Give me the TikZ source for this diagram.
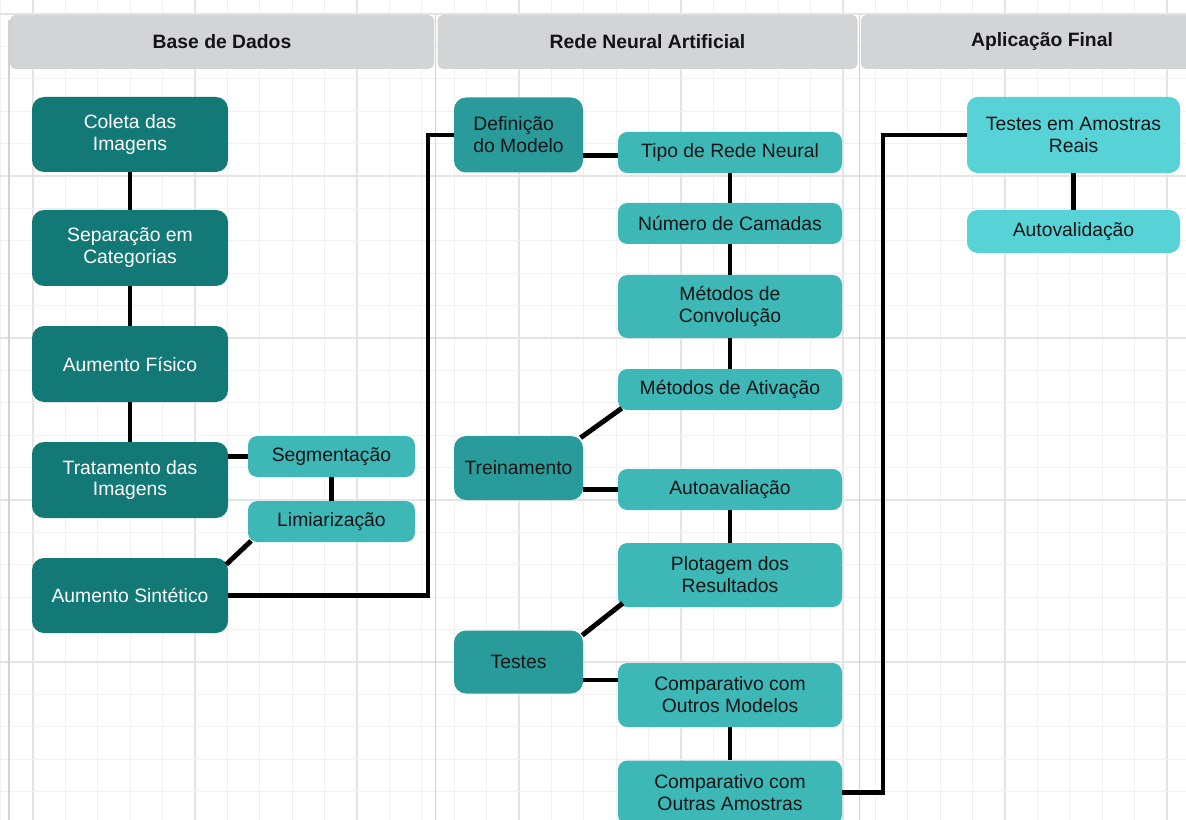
\documentclass[tikz,border=0pt]{standalone}
\usepackage{fontspec}
\setmainfont{Liberation Sans}
\usetikzlibrary{calc}
\definecolor{dk}{HTML}{137977}
\definecolor{md}{HTML}{2A9B9B}
\definecolor{lt}{HTML}{3DB8B7}
\definecolor{cy}{HTML}{57D3D7}
\definecolor{hd}{HTML}{D3D4D6}
\definecolor{txt}{HTML}{141414}
\definecolor{gmin}{HTML}{F1F1F1}
\definecolor{gmaj}{HTML}{E4E4E4}
\definecolor{lanec}{HTML}{D2D2D2}
\newcommand{\fs}{\fontsize{14.5}{16.4}\selectfont}
\begin{document}
\begin{tikzpicture}[x=0.75pt,y=-0.75pt,
  sz/.style 2 args={minimum width=#1*0.75pt, minimum height=#2*0.75pt},
  box/.style={rounded corners=9pt, inner sep=0pt, align=center, font=\fs},
  b1/.style={box, fill=dk, text=white},
  bm/.style={box, fill=md, text=txt},
  bl/.style={box, fill=lt, text=txt, rounded corners=7pt},
  b3/.style={box, fill=cy, text=txt, rounded corners=8pt},
  hdr/.style={fill=hd, rounded corners=4pt, inner sep=0pt, text=txt, font=\fs\bfseries},
  conn/.style={line width=3.7pt, black},
  lane/.style={line width=0.9pt, lanec}]
\useasboundingbox (0,0) rectangle (1186,820);
\begin{scope}
\clip (0,0) rectangle (1186,820);
\fill[white] (0,0) rectangle (1186,820);
% grid
\foreach \i in {0,...,36}{
  \pgfmathtruncatemacro{\m}{mod(\i+4,5)}
  \ifnum\m=0 \def\gc{gmaj}\else\def\gc{gmin}\fi
  \draw[\gc, line width=0.8pt] (0.6+32.4*\i,0) -- (0.6+32.4*\i,820);
}
\foreach \k in {0,...,25}{
  \pgfmathtruncatemacro{\m}{mod(\k,5)}
  \ifnum\m=0 \def\gc{gmaj}\else\def\gc{gmin}\fi
  \draw[\gc, line width=0.8pt] (0,14+32.4*\k) -- (1186,14+32.4*\k);
}
% lanes
\draw[lane] (9,20) -- (9,820);
\draw[lane] (435.5,15) -- (435.5,820);
\draw[lane] (859.5,15) -- (859.5,820);
% headers
\node[hdr, sz={424}{54}] (h1) at (222,42) {Base de Dados};
\node[hdr, sz={420}{54}] (h2) at (647.5,42) {Rede Neural Artificial};
\node[hdr, sz={362}{54}] (h3) at (1042,42) {Aplicação Final};
% lane 1
\node[b1, sz={196}{75}] (c1) at (130,134.5) {Coleta das\\Imagens};
\node[b1, sz={196}{76}] (c2) at (130,248) {Separação em\\Categorias};
\node[b1, sz={196}{76}] (c3) at (130,364) {Aumento Físico};
\node[b1, sz={196}{76}] (c4) at (130,480) {Tratamento das\\Imagens};
\node[b1, sz={196}{75}] (c5) at (130,595.5) {Aumento Sintético};
\node[bl, sz={167}{41}] (seg) at (331.5,456.5) {Segmentação};
\node[bl, sz={167}{41}] (lim) at (331.5,521.5) {Limiarização};
% lane 2
\node[bm, sz={129}{75}, align=left] (def) at (518.5,135) {Definição\\do Modelo};
\node[bl, sz={224}{41}] (tipo) at (730,152.5) {Tipo de Rede Neural};
\node[bl, sz={224}{41}] (num) at (730,223.5) {Número de Camadas};
\node[bl, sz={224}{63}] (conv) at (730,306.5) {Métodos de\\Convolução};
\node[bl, sz={224}{41}] (ativ) at (730,389.5) {Métodos de Ativação};
\node[bm, sz={129}{64}] (trein) at (518.5,468) {Treinamento};
\node[bl, sz={224}{41}] (auto) at (730,489.5) {Autoavaliação};
\node[bl, sz={224}{64}] (plot) at (730,575) {Plotagem dos\\Resultados};
\node[bm, sz={129}{63}] (testes) at (518.5,662) {Testes};
\node[bl, sz={224}{64}] (comp1) at (730,695) {Comparativo com\\Outros Modelos};
\node[bl, sz={224}{64}] (comp2) at (730,792.5) {Comparativo com\\Outras Amostras};
% lane 3
\node[b3, sz={213}{76}] (r1) at (1073.5,135) {Testes em Amostras\\Reais};
\node[b3, sz={213}{43}] (r2) at (1073.5,231.5) {Autovalidação};
% connectors lane 1
\draw[conn] (c1) -- (c2);
\draw[conn] (c2) -- (c3);
\draw[conn] (c3) -- (c4);
\draw[conn] (c4.east |- seg.west) -- (seg.west);
\draw[conn] (seg) -- (lim);
\draw[conn] ([xshift=2.5pt,yshift=1pt]lim.south west) -- ([xshift=-1.5pt,yshift=-5pt]c5.north east);
\coordinate (j1) at (428,0);
\draw[conn] (c5.east) -- (c5.east -| j1) -- (j1 |- def.west) -- (def.west);
% connectors lane 2
\coordinate (k0) at ([yshift=-2.5pt]tipo.west);
\draw[conn] (k0 -| def.east) -- (k0);
\draw[conn] (tipo) -- (num);
\draw[conn] (num) -- (conv);
\draw[conn] (conv) -- (ativ);
\draw[conn] ([xshift=3pt,yshift=1.5pt]ativ.south west) -- ([xshift=-2pt,yshift=-1.5pt]trein.north east);
\draw[conn] (auto.west -| trein.east) -- (auto.west);
\draw[conn] (auto) -- (plot);
\draw[conn] ([xshift=3.75pt,yshift=3pt]plot.south west) -- ([xshift=-0.75pt,yshift=-3.75pt]testes.north east);
\coordinate (k1) at ([yshift=11.25pt]comp1.west);
\draw[conn] (k1 -| testes.east) -- (k1);
\draw[conn] (comp1) -- (comp2);
\coordinate (j2) at (883,0);
\draw[conn] (comp2.east) -- (comp2.east -| j2) -- (j2 |- r1.west) -- (r1.west);
% lane 3
\draw[conn] (r1) -- (r2);
\end{scope}
\end{tikzpicture}
\end{document}
